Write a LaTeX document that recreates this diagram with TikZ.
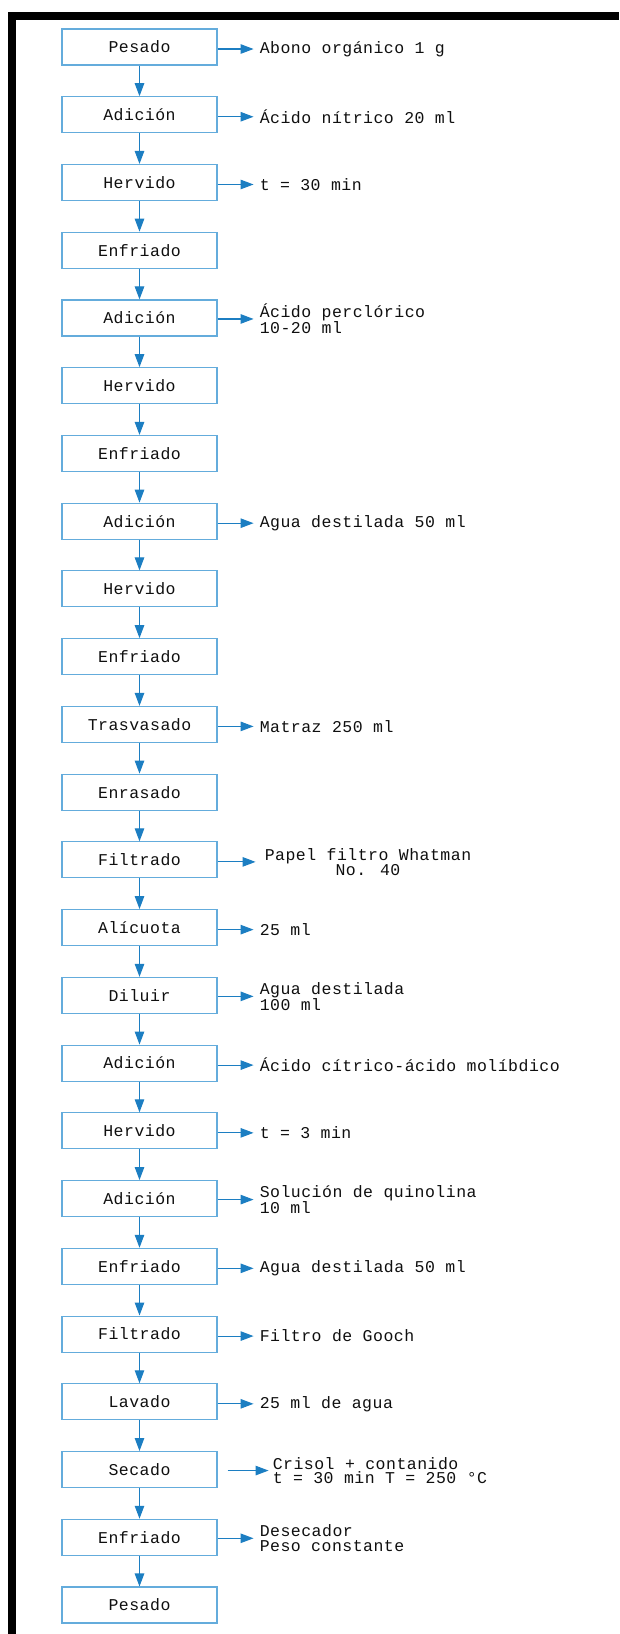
\documentclass[tikz,border=0pt]{standalone}
\usepackage{fontspec}
\usetikzlibrary{arrows.meta,calc}
\newfontfamily\flowfont[LetterSpace=3]{Liberation Mono}
\definecolor{boxblue}{RGB}{100,172,220}
\definecolor{arrowblue}{RGB}{28,126,194}
\definecolor{ink}{RGB}{15,15,15}
\begin{document}
\begin{tikzpicture}[x=1pt,y=-1pt,
  stepbox/.style={draw=boxblue, line width=1.1pt, minimum width=155pt,
    minimum height=36pt, inner sep=0pt, text=ink,
    font=\flowfont\fontsize{16.5}{16.5}\selectfont},
  note/.style={anchor=west, inner xsep=6pt, inner ysep=0pt, align=left,
    text=ink, font=\flowfont\fontsize{16.5}{14.5}\selectfont},
  flow/.style={draw=arrowblue, line width=1.1pt,
    -{Triangle[length=13pt,width=9.5pt]}}]
  % canvas and frame (top and left edges only)
  \useasboundingbox (0,0) rectangle (619,1634);
  \fill[white] (0,0) rectangle (619,1634);
  \fill[black] (8,12) rectangle (619,20);
  \fill[black] (8,12) rectangle (16,1634);

  % main column of steps
  \foreach \lbl [count=\i from 0] in {Pesado, Adición, Hervido, Enfriado,
      Adición, Hervido, Enfriado, Adición, Hervido, Enfriado, Trasvasado,
      Enrasado, Filtrado, Alícuota, Diluir, Adición, Hervido, Adición,
      Enfriado, Filtrado, Lavado, Secado, Enfriado, Pesado}
    \node[stepbox] (b\i) at (139.5,{47+67.74*\i}) {\lbl};

  \foreach \i [evaluate=\i as \j using int(\i+1)] in {0,...,22}
    \draw[flow] (b\i.south) -- (b\j.north);

  % side notes
  \node[note] (n0)  at ($(b0.east)+(36,2)$)  {Abono orgánico 1 g};
  \node[note] (n1)  at ($(b1.east)+(36,2)$)  {Ácido nítrico 20 ml};
  \node[note] (n2)  at ($(b2.east)+(36,2)$)  {t = 30 min};
  \node[note] (n4)  at ($(b4.east)+(36,1)$)  {Ácido perclórico\\10-20 ml};
  \node[note] (n7)  at ($(b7.east)+(36,2)$)  {Agua destilada 50 ml};
  \node[note] (n10) at ($(b10.east)+(36,2)$) {Matraz 250 ml};
  \node[note, align=center, inner xsep=9pt] (n12) at ($(b12.east)+(38,2)$)
    {Papel filtro Whatman\\No. 40};
  \node[note] (n13) at ($(b13.east)+(36,2)$) {25 ml};
  \node[note] (n14) at ($(b14.east)+(36,1)$) {Agua destilada\\100 ml};
  \node[note] (n15) at ($(b15.east)+(36,2)$) {Ácido cítrico-ácido molíbdico};
  \node[note] (n16) at ($(b16.east)+(36,2)$) {t = 3 min};
  \node[note] (n17) at ($(b17.east)+(36,1)$) {Solución de quinolina\\10 ml};
  \node[note] (n18) at ($(b18.east)+(36,2)$) {Agua destilada 50 ml};
  \node[note] (n19) at ($(b19.east)+(36,2)$) {Filtro de Gooch};
  \node[note] (n20) at ($(b20.east)+(36,2)$) {25 ml de agua};
  \node[note, inner xsep=4pt] (n21) at ($(b21.east)+(51,1)$)
    {Crisol + contanido\\t = 30 min T = 250 °C};
  \node[note] (n22) at ($(b22.east)+(36,1)$) {Desecador\\Peso constante};

  \foreach \k in {0,1,2,4,7,10,12,13,14,15,16,17,18,19,20,22}
    \draw[flow] (b\k.east |- n\k.west) -- (n\k.west);
  \draw[flow] ([xshift=10pt]b21.east |- n21.west) -- (n21.west);
\end{tikzpicture}
\end{document}
